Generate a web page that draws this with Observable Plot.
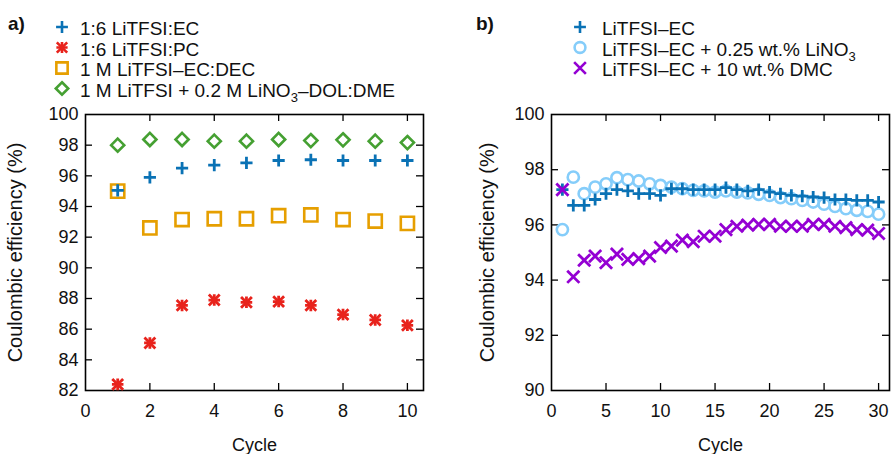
<!DOCTYPE html>
<html><head><meta charset="utf-8">
<script src="https://cdn.jsdelivr.net/npm/d3@7"></script>
<script src="https://cdn.jsdelivr.net/npm/@observablehq/plot@0.6"></script>
<style>
body{margin:0;background:#fff;}
#root{position:relative;width:891px;height:454px;overflow:hidden;font-family:"Liberation Sans",Arial,sans-serif;}
#root > svg{position:absolute;top:0;}
</style></head><body><div id="root"></div>
<script>
// ---------- Data (panel a) ----------
const cyclesA = [1,2,3,4,5,6,7,8,9,10];
const litfsiEC_A = [95.05, 95.9, 96.5, 96.7, 96.85, 97.0, 97.05, 97.0, 97.0, 97.0];
const litfsiPC_A = [82.4, 85.1, 87.55, 87.9, 87.75, 87.8, 87.55, 86.95, 86.6, 86.25];
const ecDec_A = [95.0, 92.6, 93.15, 93.2, 93.2, 93.4, 93.45, 93.15, 93.05, 92.9];
const dolDme_A = [98.0, 98.37, 98.37, 98.26, 98.26, 98.37, 98.3, 98.35, 98.26, 98.17];
const xTicksA = [0,2,4,6,8,10];
const yTicksA = [82,84,86,88,90,92,94,96,98,100];
const seriesA = ["1:6 LiTFSI:EC","1:6 LiTFSI:PC","1 M LiTFSI–EC:DEC","1 M LiTFSI + 0.2 M LiNO3–DOL:DME"];

// ---------- Data (panel b) ----------
const cyclesB = Array.from({length:30},(_,i)=>i+1);
const ecB = [97.28, 96.71, 96.71, 96.92, 97.13, 97.28, 97.23, 97.13, 97.13, 97.07, 97.31, 97.31, 97.28, 97.28, 97.28, 97.35, 97.28, 97.23, 97.28, 97.19, 97.13, 97.07, 97.04, 97.01, 96.99, 96.92, 96.92, 96.89, 96.89, 96.83];
const lino3B = [95.83, 97.73, 97.13, 97.37, 97.49, 97.71, 97.64, 97.59, 97.49, 97.43, 97.37, 97.31, 97.25, 97.23, 97.19, 97.23, 97.19, 97.16, 97.11, 97.07, 96.99, 96.95, 96.89, 96.83, 96.75, 96.67, 96.59, 96.53, 96.49, 96.39];
const dmcB = [97.28, 94.12, 94.72, 94.87, 94.63, 94.94, 94.75, 94.78, 94.87, 95.18, 95.23, 95.45, 95.39, 95.59, 95.59, 95.83, 95.95, 95.99, 96.02, 96.02, 95.95, 95.95, 95.95, 96.02, 96.02, 95.95, 95.9, 95.83, 95.81, 95.69];
const xTicksB = [0,5,10,15,20,25,30];
const yTicksB = [90,92,94,96,98,100];
const seriesB = ["LiTFSI–EC","LiTFSI–EC + 0.25 wt.% LiNO3","LiTFSI–EC + 10 wt.% DMC"];

// ---------- Styles ----------
const FONT = '"Liberation Sans", Arial, sans-serif';
const C = {blue:"#0a72b5", red:"#e8231c", orange:"#e69f00", green:"#45a032", sky:"#85cdfa", purple:"#9400d3"};
const PW = 338, PH = 276, TK = 7;

const toRows = (xs, ys) => xs.map((x,i)=>({cycle:x, v:ys[i]}));

function frameMarks(xTicks, yTicks) {
  const xt = xTicks.filter((t,i)=>i>0);
  const yt = yTicks.filter((t,i)=>i>0 && i<yTicks.length-1);
  const s = {stroke:"#000", strokeWidth:1.3};
  return [
    Plot.tickX(xt, {x:d=>d, insetTop:PH-TK, ...s}),
    Plot.tickX(xt, {x:d=>d, insetBottom:PH-TK, ...s}),
    Plot.tickY(yt, {y:d=>d, insetRight:PW-TK, ...s}),
    Plot.tickY(yt, {y:d=>d, insetLeft:PW-TK, ...s}),
    Plot.frame({stroke:"#000", strokeWidth:1.6}),
    Plot.axisX({ticks:xTicks, tickSize:0, tickPadding:14, label:null, fontSize:18}),
    Plot.axisY({ticks:yTicks, tickSize:0, tickPadding:7, label:null, fontSize:18}),
  ];
}

function labelMarks(ylabDx) {
  return [
    Plot.text(["Cycle"], {text:d=>d, frameAnchor:"bottom", dy:60, lineAnchor:"bottom", fontSize:18, fill:"#111"}),
    Plot.text(["Coulombic efficiency (%)"], {text:d=>d, frameAnchor:"left", dx:ylabDx, rotate:-90, textAnchor:"middle", lineAnchor:"middle", fontSize:20, fill:"#111"}),
  ];
}

const root = document.getElementById("root");

// Panel a
const plotA = Plot.plot({
  width:445, height:454, marginLeft:85, marginRight:22, marginTop:114, marginBottom:64,
  style:{fontFamily:FONT, fontSize:"18px", color:"#111", background:"transparent", overflow:"visible"},
  x:{domain:[0,10.5]}, y:{domain:[82,100]},
  marks:[
    ...frameMarks(xTicksA, yTicksA),
    Plot.dot(toRows(cyclesA, dolDme_A), {x:"cycle", y:"v", symbol:"diamond2", r:5.9, stroke:C.green, strokeWidth:2.6}),
    Plot.dot(toRows(cyclesA, ecDec_A), {x:"cycle", y:"v", symbol:"square2", r:8.4, stroke:C.orange, strokeWidth:2.6}),
    Plot.dot(toRows(cyclesA, litfsiEC_A), {x:"cycle", y:"v", symbol:"plus", r:4.0, stroke:C.blue, strokeWidth:2.8}),
    Plot.dot(toRows(cyclesA, litfsiPC_A), {x:"cycle", y:"v", symbol:"plus", r:3.8, stroke:C.red, strokeWidth:2.8}),
    Plot.dot(toRows(cyclesA, litfsiPC_A), {x:"cycle", y:"v", symbol:"times", r:5.0, stroke:C.red, strokeWidth:2.8}),
    ...labelMarks(-70),
  ]
});
plotA.style.left = "0px";
root.appendChild(plotA);

// Panel b
const plotB = Plot.plot({
  width:446, height:454, marginLeft:106, marginRight:2, marginTop:114, marginBottom:64,
  style:{fontFamily:FONT, fontSize:"18px", color:"#111", background:"transparent", overflow:"visible"},
  x:{domain:[0,31]}, y:{domain:[90,100]},
  marks:[
    ...frameMarks(xTicksB, yTicksB),
    Plot.dot(toRows(cyclesB, lino3B), {x:"cycle", y:"v", symbol:"circle", r:5.6, stroke:C.sky, strokeWidth:2.6}),
    Plot.dot(toRows(cyclesB, ecB), {x:"cycle", y:"v", symbol:"plus", r:4.0, stroke:C.blue, strokeWidth:2.8}),
    Plot.dot(toRows(cyclesB, dmcB), {x:"cycle", y:"v", symbol:"times", r:5.6, stroke:C.purple, strokeWidth:2.8}),
    ...labelMarks(-64),
  ]
});
plotB.style.left = "445px";
root.appendChild(plotB);

// ---------- Overlay: panel letters + legends ----------
const ov = d3.select(root).append("svg").attr("width",891).attr("height",454)
  .style("left","0px").style("font-family",FONT).style("pointer-events","none");
ov.append("text").attr("x",8).attr("y",30).attr("font-size",19).attr("font-weight","bold").attr("fill","#111").text("a)");
ov.append("text").attr("x",476).attr("y",30).attr("font-size",19).attr("font-weight","bold").attr("fill","#111").text("b)");

const sym = (type, r) => d3.symbol().type(type).size(Math.PI*r*r)();
function legendSymbol(g, kind, color) {
  const p = (type, r) => g.append("path").attr("d", sym(type, r)).attr("fill","none").attr("stroke",color).attr("stroke-width",2.6);
  if (kind==="plus") p(d3.symbolPlus, 3.9);
  if (kind==="aster") { p(d3.symbolPlus, 3.7); p(d3.symbolTimes, 4.8); }
  if (kind==="square") p(d3.symbolSquare2, 7.2);
  if (kind==="diamond") p(d3.symbolDiamond2, 5.6);
  if (kind==="circle") p(d3.symbolCircle, 5.4);
  if (kind==="times") p(d3.symbolTimes, 5.4);
}
function legendText(t, label) {
  const m = label.match(/^(.*LiNO)3(.*)$/);
  if (m) {
    t.append("tspan").text(m[1]);
    t.append("tspan").attr("dy",5).attr("font-size",13).text("3");
    if (m[2]) t.append("tspan").attr("dy",-5).text(m[2]);
  } else t.text(label);
}
const baselines = [35, 55.5, 76, 96.5];
function legend(x0, tx, labels, kinds, colors) {
  labels.forEach((lab,i)=>{
    const g = ov.append("g").attr("transform",`translate(${x0},${baselines[i]-8})`);
    legendSymbol(g, kinds[i], colors[i]);
    const t = ov.append("text").attr("x",tx).attr("y",baselines[i]).attr("font-size",19).attr("fill","#111");
    legendText(t, lab);
  });
}
legend(62, 80, seriesA, ["plus","aster","square","diamond"], [C.blue,C.red,C.orange,C.green]);
legend(580, 602, seriesB, ["plus","circle","times"], [C.blue,C.sky,C.purple]);
</script></body></html>
